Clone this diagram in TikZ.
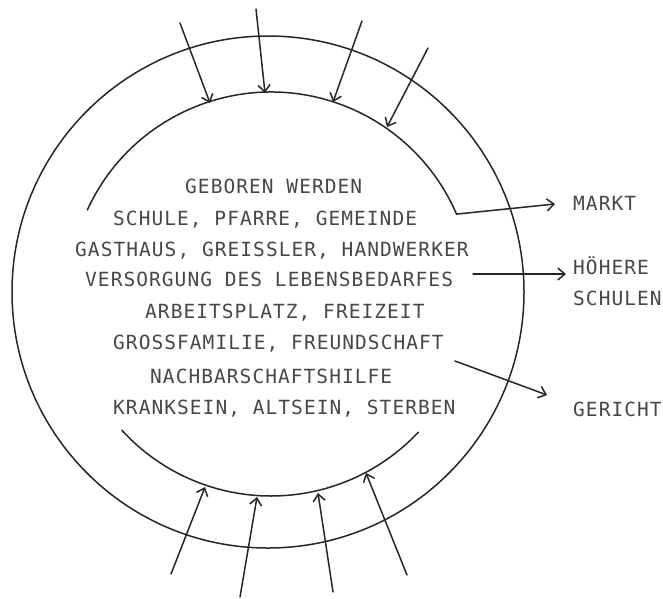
\documentclass[tikz,border=0pt]{standalone}
\usepackage{fontspec}
\newfontfamily\plotfont[LetterSpace=5.4]{DejaVu Sans Mono}
\usetikzlibrary{arrows.meta}
\begin{document}
\begin{tikzpicture}[x=1pt,y=-1pt,
  line/.style={line width=1.5pt, black!85, line cap=round},
  arr/.style={line, -{Straight Barb[length=7pt,width=12pt,line width=1.5pt]}},
  txt/.style={font=\plotfont\fontsize{19.5}{21}\selectfont, text=black!72,
    inner sep=0pt, text height=14.2pt, text depth=0pt, anchor=west}]
\useasboundingbox (0,0) rectangle (663,598);
\fill[white] (0,0) rectangle (663,598);

% circles
\coordinate (oc) at (268,292);
\coordinate (ic) at (271,294);
\draw[line] (oc) circle[radius=256];

% text lines
\node[txt] (l1) at (185,186) {GEBOREN WERDEN};
\node[txt] (l2) at (113,218) {SCHULE, PFARRE, GEMEINDE};
\node[txt] (l3) at (75,249) {GASTHAUS, GREISSLER, HANDWERKER};
\node[txt] (l4) at (85,279) {VERSORGUNG DES LEBENSBEDARFES};
\node[txt] (l5) at (145,311) {ARBEITSPLATZ, FREIZEIT};
\node[txt] (l6) at (113,342) {GROSSFAMILIE, FREUNDSCHAFT};
\node[txt] (l7) at (150,376) {NACHBARSCHAFTSHILFE};
\node[txt] (l8) at (113,407) {KRANKSEIN, ALTSEIN, STERBEN};

% outside labels
\node[txt] (markt) at (573,203) {MARKT};
\node[txt] (hoehere) at (573,267) {HÖHERE};
\node[txt] (schulen) at (573,298) {SCHULEN};
\node[txt] (gericht) at (573,409) {GERICHT};

% inner top arc turning into the MARKT arrow
\coordinate (mtip) at (555,204);
\draw[arr] (ic) ++(-155.4:202) arc[start angle=-155.4, end angle=-23.3, radius=202] -- (mtip);

% inner bottom arc
\draw[line] (ic) ++(137.6:202) arc[start angle=137.6, end angle=43.2, radius=202];

% HOEHERE SCHULEN arrow
\coordinate (hs) at (473,274);
\coordinate (ht) at (566,274);
\draw[arr] (hs) -- (ht);

% GERICHT arrow
\coordinate (gs) at (455,361);
\coordinate (gt) at (547,395);
\draw[arr] (gs) -- (gt);

% top arrows
\coordinate (t1s) at (180,23);  \coordinate (t1e) at (210,103);
\coordinate (t2s) at (256,9);   \coordinate (t2e) at (265,93);
\coordinate (t3s) at (362,21);  \coordinate (t3e) at (333,102);
\coordinate (t4s) at (428,48);  \coordinate (t4e) at (387,127);
\foreach \i in {1,2,3,4} \draw[arr] (t\i s) -- (t\i e);

% bottom arrows
\coordinate (b1s) at (171,574); \coordinate (b1e) at (205,487);
\coordinate (b2s) at (240,597); \coordinate (b2e) at (257,497);
\coordinate (b3s) at (333,592); \coordinate (b3e) at (318,493);
\coordinate (b4s) at (407,575); \coordinate (b4e) at (366,473);
\foreach \i in {1,2,3,4} \draw[arr] (b\i s) -- (b\i e);
\end{tikzpicture}
\end{document}
